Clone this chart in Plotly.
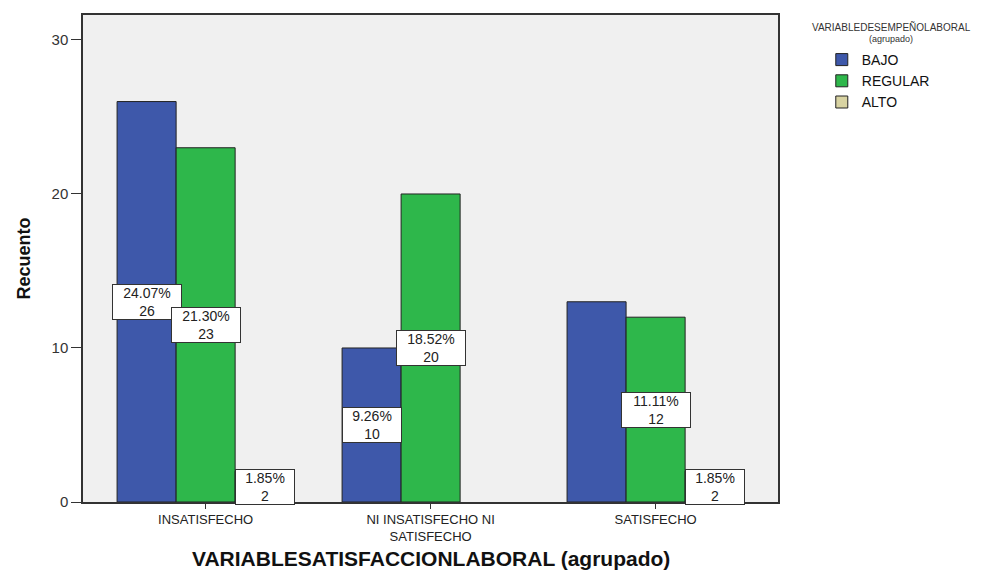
import plotly.graph_objects as go

# ---- data ----
categories = ["INSATISFECHO", "NI INSATISFECHO NI<br>SATISFECHO", "SATISFECHO"]
series_names = ["BAJO", "REGULAR", "ALTO"]
bajo = [26, 10, 13]
regular = [23, 20, 12]
alto = [2, None, 2]
bajo_pct = ["24.07%", "9.26%", None]
regular_pct = ["21.30%", "18.52%", "11.11%"]
alto_pct = ["1.85%", None, "1.85%"]
y_ticks = [0, 10, 20, 30]

# ---- styles ----
colors = ["#3E58AA", "#2EB74B", "#D8D3A2"]
FONT = "Liberation Sans, Arial, sans-serif"
BARGAP = 0.213

series = [bajo, regular, alto]
pcts = [bajo_pct, regular_pct, alto_pct]
xpos = list(range(len(categories)))

fig = go.Figure()
for name, vals, col in zip(series_names, series, colors):
    fig.add_trace(go.Bar(
        x=xpos, y=vals, name=name,
        marker=dict(color=col, line=dict(color="#222222", width=1)),
        hoverinfo="skip",
    ))

bw = (1 - BARGAP) / len(series)
annotations = []
for j, (vals, pl) in enumerate(zip(series, pcts)):
    for i, (v, p) in enumerate(zip(vals, pl)):
        if v is None or p is None:
            continue
        annotations.append(dict(
            x=i + (j - (len(series) - 1) / 2) * bw, y=v / 2,
            xref="x", yref="y",
            text=f"{p}<br>{v}", showarrow=False,
            font=dict(family=FONT, size=14, color="#222222"),
            bgcolor="white", bordercolor="#333333", borderwidth=1, borderpad=0,
            width=10 * len(p) + 8,
        ))

# legend title (two lines)
annotations.append(dict(
    x=1.1626, y=(502 - 27) / 487, xref="paper", yref="paper", xanchor="center", yanchor="middle",
    text="VARIABLEDESEMPEÑOLABORAL", showarrow=False,
    font=dict(family=FONT, size=10, color="#333333")))
annotations.append(dict(
    x=1.1626, y=(502 - 39) / 487, xref="paper", yref="paper", xanchor="center", yanchor="middle",
    text="(agrupado)", showarrow=False,
    font=dict(family=FONT, size=9, color="#333333")))

# x axis title
annotations.append(dict(
    x=0.5, y=(502 - 558) / 487, xref="paper", yref="paper", xanchor="center", yanchor="middle",
    text="<b>VARIABLESATISFACCIONLABORAL (agrupado)</b>", showarrow=False,
    font=dict(family=FONT, size=21, color="#111111")))

fig.update_layout(
    width=996, height=571,
    margin=dict(l=83, r=218, t=15, b=69, autoexpand=False),
    barmode="group", bargap=BARGAP, bargroupgap=0,
    plot_bgcolor="#F0F0F0", paper_bgcolor="white",
    font=dict(family=FONT, color="#222222"),
    showlegend=True,
    legend=dict(x=1.063, y=(502 - 44) / 487, xanchor="left", yanchor="top",
                font=dict(family=FONT, size=14, color="#111111"),
                bgcolor="rgba(0,0,0,0)", borderwidth=0,
                tracegroupgap=0, itemclick=False),
    annotations=annotations,
)
fig.update_xaxes(
    tickmode="array", tickvals=xpos, ticktext=categories,
    range=[-0.545, 2.544],
    showline=True, linecolor="#333333", linewidth=1.5, mirror=True,
    ticks="outside", ticklen=5, tickcolor="#333333",
    tickfont=dict(family=FONT, size=13, color="#222222"),
    showgrid=False, zeroline=False, automargin=False,
)
fig.update_yaxes(
    tickmode="array", tickvals=y_ticks,
    range=[0, 31.62],
    showline=True, linecolor="#333333", linewidth=1.5, mirror=True,
    ticks="outside", ticklen=10, tickcolor="#333333",
    tickfont=dict(family=FONT, size=15, color="#333333"),
    showgrid=False, zeroline=False, automargin=False,
    title=dict(text="<b>Recuento</b>",
               font=dict(family=FONT, size=18, color="#111111"), standoff=16),
)

fig.write_html("out.html")
